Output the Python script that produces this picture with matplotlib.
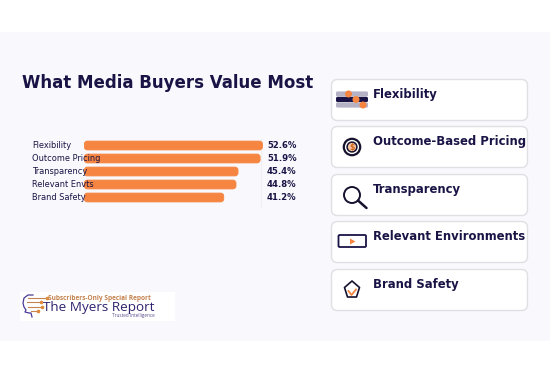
import matplotlib
matplotlib.use("Agg")
import matplotlib.pyplot as plt
from matplotlib.patches import FancyBboxPatch, Rectangle, Circle, Polygon

categories = ["Flexibility", "Outcome Pricing", "Transparency", "Relevant Envts", "Brand Safety"]
values = [52.6, 51.9, 45.4, 44.8, 41.2]
value_labels = ["52.6%", "51.9%", "45.4%", "44.8%", "41.2%"]
card_titles = ["Flexibility", "Outcome-Based Pricing", "Transparency", "Relevant Environments", "Brand Safety"]

W, H = 550, 381
NAVY = "#1a1446"
ORANGE = "#f58540"

fig = plt.figure(figsize=(W / 100, H / 100), dpi=100, facecolor="white")
bg = fig.add_axes([0, 0, 1, 1], zorder=0)
bg.set_xlim(0, W); bg.set_ylim(H, 0); bg.axis("off")
bg.add_patch(Rectangle((0, 32), W, 309, fc="#f9f9fd", ec="none"))

# bar chart axes: 3.4 px per percentage point, 13 px per row
left, right, top, bottom = 84, 294, 139, 204
ax = fig.add_axes([left / W, 1 - bottom / H, (right - left) / W, (bottom - top) / H], zorder=1)
ax.set_xlim(0, (right - left) / 3.4)
ax.set_ylim(len(values) - 0.5, -0.5)
ax.axis("off")
ax.patch.set_alpha(0)
ax.axvline(52.0, color="#f0f0f4", lw=0.8, zorder=0, ymin=-0.05, clip_on=False)
for i, v in enumerate(values):
    ax.add_patch(FancyBboxPatch((0.1, i - 0.34), v - 0.2, 0.68,
                                boxstyle="round,pad=0,rounding_size=0.9", mutation_aspect=0.26,
                                fc=ORANGE, ec=ORANGE, lw=0.6, zorder=2))
    ax.annotate(categories[i], (0, i), xytext=(32, H - (145.5 + 13 * i)), textcoords="figure pixels",
                fontsize=5.95, color=NAVY, ha="left", va="center", zorder=5, annotation_clip=False)
    ax.annotate(value_labels[i], (v, i), xytext=(267, H - (145.5 + 13 * i)), textcoords="figure pixels",
                fontsize=6.1, fontweight="bold", color=NAVY, ha="left", va="center", zorder=5,
                annotation_clip=False)

ov = fig.add_axes([0, 0, 1, 1], zorder=2)
ov.set_xlim(0, W); ov.set_ylim(H, 0); ov.axis("off"); ov.patch.set_alpha(0)

ov.text(22, 82.5, "What Media Buyers Value Most", fontsize=11.95, fontweight="bold", color=NAVY,
        ha="left", va="center")

# cards
card_tops = [79, 126, 174, 221, 269]
for t, title in zip(card_tops, card_titles):
    ov.add_patch(FancyBboxPatch((331.5, t + 0.5), 196, 41, boxstyle="round,pad=0,rounding_size=6",
                                fc="white", ec="#dfdfe4", lw=1))
    ov.text(373, t + 15.5, title, fontsize=8.4, fontweight="bold", color=NAVY, ha="left", va="center")

# icon: flexibility sliders
for y, c in [(94, "#b4b2c4"), (99.5, NAVY), (105, "#b4b2c4")]:
    ov.add_patch(FancyBboxPatch((336, y - 2.6), 32, 5.2, boxstyle="round,pad=0,rounding_size=1.5", fc=c, ec="none"))
for x, y in [(348.5, 94), (356, 99.5), (363, 105)]:
    ov.add_patch(Circle((x, y), 3.5, fc=ORANGE, ec="none"))

# icon: outcome pricing
ov.add_patch(Circle((352, 147), 8.2, fc="white", ec="#15122e", lw=1.6))
ov.add_patch(Circle((352, 147), 4.9, fc="#f6c6a4", ec="#15122e", lw=1.1))
ov.text(352, 147.3, "$", fontsize=5.5, color="#d2691e", ha="center", va="center", fontweight="bold")

# icon: magnifier
ov.add_patch(Circle((352, 195), 8, fc="white", ec="#15122e", lw=1.4))
ov.plot([358, 366.5], [200.5, 208], color="#15122e", lw=1.8, solid_capstyle="round")

# icon: video
ov.add_patch(FancyBboxPatch((338.5, 235), 27.5, 12, boxstyle="round,pad=0,rounding_size=1.2",
                            fc="white", ec=NAVY, lw=1.3))
ov.add_patch(Polygon([(350, 238.5), (350, 244.5), (355.5, 241.5)], fc=ORANGE, ec="none"))

# icon: shield
ov.add_patch(Polygon([(352, 281), (359.5, 287.5), (356.5, 297), (347.5, 297), (344.5, 287.5)],
                     fc="white", ec="#15122e", lw=1.2, joinstyle="round"))
ov.plot([348.5, 351.5, 356], [291, 295, 289.5], color=ORANGE, lw=1.3)

# logo
ov.add_patch(Rectangle((20, 292), 155, 29, fc="white", ec="none"))
ov.text(48, 298.5, "Subscribers-Only Special Report", fontsize=4.7, fontweight="bold", color="#c4824e",
        ha="left", va="center", family="Open Sans")
ov.text(43, 307.5, "The Myers Report", fontsize=9.7, color="#2f2370", ha="left", va="center", family="Open Sans")
ov.text(112, 315.5, "Trusted Intelligence", fontsize=3.3, color="#5a4b8a", ha="left", va="center", family="Open Sans")
# logo head outline and circuit arrows
ov.plot([33, 28, 24, 23, 24, 26, 25, 29, 31, 32], [295, 295, 298, 303, 307, 310, 312, 313, 313, 317],
        color="#4b3a96", lw=0.9)
for y, x0, x1 in [(298, 28, 47), (302, 27, 41), (307, 28, 42), (311, 31, 38)]:
    ov.plot([x0, x1], [y, y], color="#c4824e", lw=0.8)
    ov.plot([x1], [y], marker="o", ms=1.6, color="#e08a3c")

fig.savefig("out.png", dpi=100, facecolor="white")
